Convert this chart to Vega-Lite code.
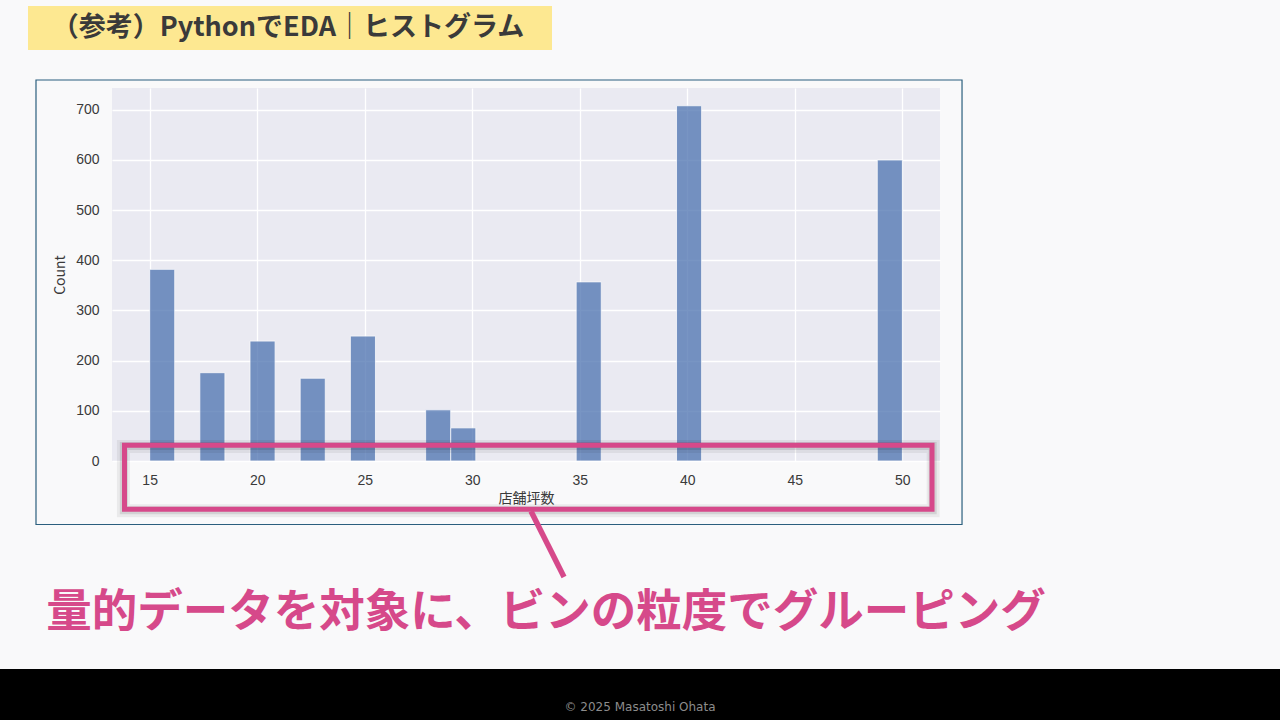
{
  "$schema": "https://vega.github.io/schema/vega-lite/v6.json",
  "autosize": {"type": "none"},
  "width": 828,
  "height": 373,
  "padding": {"left": 112, "top": 88, "right": 340, "bottom": 259},
  "background": "#f9f9fa",
  "config": {
    "view": {"fill": "#eaeaf2", "stroke": null},
    "font": "Noto Sans CJK JP",
    "axis": {
      "grid": true,
      "gridColor": "#ffffff",
      "gridWidth": 1.3,
      "domain": false,
      "ticks": false,
      "labelFont": "Liberation Sans",
      "labelFontSize": 14,
      "labelColor": "#3a3a3a",
      "titleFont": "Noto Sans CJK JP",
      "titleFontSize": 14,
      "titleFontWeight": "normal",
      "titleColor": "#3a3a3a"
    }
  },
  "datasets": {
    "bins": [
      {"bin_start": 15.0, "bin_end": 16.1667, "count": 382},
      {"bin_start": 17.3333, "bin_end": 18.5, "count": 176},
      {"bin_start": 19.6667, "bin_end": 20.8333, "count": 239},
      {"bin_start": 22.0, "bin_end": 23.1667, "count": 165},
      {"bin_start": 24.3333, "bin_end": 25.5, "count": 249},
      {"bin_start": 27.8333, "bin_end": 29.0, "count": 102},
      {"bin_start": 29.0, "bin_end": 30.1667, "count": 66},
      {"bin_start": 34.8333, "bin_end": 36.0, "count": 357},
      {"bin_start": 39.5, "bin_end": 40.6667, "count": 708},
      {"bin_start": 48.8333, "bin_end": 50.0, "count": 600}
    ],
    "slide": [{}]
  },
  "layer": [
    {
      "data": {"name": "slide"},
      "mark": {"type": "rect", "clip": false, "fillOpacity": 0, "stroke": "#2b5f7e", "strokeWidth": 1.2},
      "encoding": {
        "x": {"datum": 9.716}, "x2": {"datum": 52.774},
        "y": {"datum": 759.3}, "y2": {"datum": -126.6}
      }
    },
    {
      "data": {"name": "slide"},
      "mark": {"type": "rect", "clip": false, "fill": "#fde891"},
      "encoding": {
        "x": {"datum": 9.344}, "x2": {"datum": 33.709},
        "y": {"datum": 906.8}, "y2": {"datum": 819.1}
      }
    },
    {
      "data": {"name": "slide"},
      "mark": {"type": "text", "clip": false, "text": "（参考）PythonでEDA｜ヒストグラム", "font": "Noto Sans CJK JP", "fontSize": 27, "fontWeight": "bold", "color": "#3a3a3a", "align": "center", "baseline": "middle"},
      "encoding": {"x": {"datum": 21.43}, "y": {"datum": 863.0}}
    },
    {
      "data": {"name": "bins"},
      "mark": {"type": "bar", "color": "#4c72b0", "opacity": 0.75, "stroke": "#ffffff", "strokeWidth": 0.8},
      "encoding": {
        "x": {
          "field": "bin_start", "type": "quantitative",
          "scale": {"domain": [13.25, 51.75], "nice": false, "zero": false},
          "axis": {"title": "店舗坪数", "values": [15, 20, 25, 30, 35, 40, 45, 50], "labelPadding": 12, "titlePadding": 4}
        },
        "x2": {"field": "bin_end"},
        "y": {
          "field": "count", "type": "quantitative",
          "scale": {"domain": [0, 743.4], "nice": false},
          "axis": {"title": "Count", "values": [0, 100, 200, 300, 400, 500, 600, 700], "labelPadding": 13, "titlePadding": 8}
        },
        "y2": {"datum": 0}
      }
    },
    {
      "data": {"name": "slide"},
      "mark": {"type": "rect", "clip": false, "fillOpacity": 0, "stroke": "#000000", "strokeOpacity": 0.06, "strokeWidth": 13},
      "encoding": {
        "x": {"datum": 13.78}, "x2": {"datum": 51.43},
        "y": {"datum": 29.0}, "y2": {"datum": -99.0}
      }
    },
    {
      "data": {"name": "slide"},
      "mark": {"type": "rect", "clip": false, "fillOpacity": 0, "stroke": "#000000", "strokeOpacity": 0.1, "strokeWidth": 8},
      "encoding": {
        "x": {"datum": 13.80}, "x2": {"datum": 51.41},
        "y": {"datum": 30.0}, "y2": {"datum": -98.0}
      }
    },
    {
      "data": {"name": "slide"},
      "mark": {"type": "rect", "clip": false, "fillOpacity": 0, "stroke": "#d6498a", "strokeWidth": 5},
      "encoding": {
        "x": {"datum": 13.831}, "x2": {"datum": 51.379},
        "y": {"datum": 31.3}, "y2": {"datum": -96.3}
      }
    },
    {
      "data": {"name": "slide"},
      "mark": {"type": "rule", "clip": false, "color": "#d6498a", "strokeWidth": 5.5},
      "encoding": {
        "x": {"datum": 32.733}, "x2": {"datum": 34.268},
        "y": {"datum": -100.0}, "y2": {"datum": -231.2}
      }
    },
    {
      "data": {"name": "slide"},
      "mark": {"type": "text", "clip": false, "text": "量的データを対象に、ビンの粒度でグルーピング", "font": "Noto Sans CJK JP", "fontSize": 45.5, "fontWeight": "bold", "color": "#d6498a", "align": "center", "baseline": "middle"},
      "encoding": {"x": {"datum": 33.431}, "y": {"datum": -303.0}}
    },
    {
      "data": {"name": "slide"},
      "mark": {"type": "rect", "clip": false, "fill": "#000000"},
      "encoding": {
        "x": {"datum": 0}, "x2": {"datum": 70},
        "y": {"datum": -414.6}, "y2": {"datum": -540}
      }
    },
    {
      "data": {"name": "slide"},
      "mark": {"type": "text", "clip": false, "text": "© 2025 Masatoshi Ohata", "font": "DejaVu Sans", "fontSize": 12, "color": "#8c8c8c", "align": "center", "baseline": "middle"},
      "encoding": {"x": {"datum": 37.801}, "y": {"datum": -489.3}}
    }
  ]
}
